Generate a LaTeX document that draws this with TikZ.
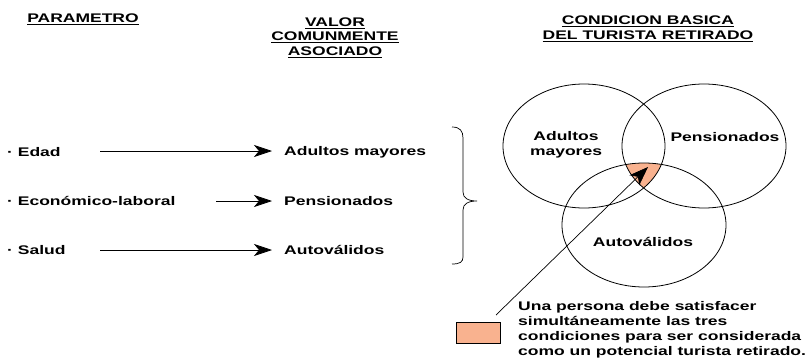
\documentclass[tikz,border=0pt]{standalone}
\usepackage{fontspec}
\setmainfont{Liberation Sans}[FakeStretch=1.4]
\usetikzlibrary{arrows.meta}
\definecolor{salmon}{RGB}{249,178,143}
\tikzset{
  txt/.style={font=\bfseries\fontsize{12.5}{15}\selectfont, inner sep=0pt},
  head/.style={txt, align=center},
  arr/.style={-{Stealth[length=18pt,width=12pt,inset=5pt]}, line width=0.7pt},
  venn/.style={line width=0.8pt},
}
\begin{document}
\begin{tikzpicture}[x=1pt,y=-1pt]
\useasboundingbox (0,0) rectangle (812,364);
% headings
\node[head] (h1) at (83,19.5) {\underline{PARAMETRO}};
\node[head] (h2) at (335,37.5) {\underline{VALOR}\\[-0.5pt]\underline{COMUNMENTE}\\[-0.5pt]\underline{ASOCIADO}};
\node[head] (h3) at (648,29) {\underline{CONDICION BASICA}\\[0pt]\underline{DEL TURISTA RETIRADO}};
% left column
\node[txt, anchor=west] (p1) at (7,152) {· Edad};
\node[txt, anchor=west] (p2) at (7,201) {· Económico-laboral};
\node[txt, anchor=west] (p3) at (7,250) {· Salud};
\node[txt, anchor=west] (v1) at (284,152) {Adultos mayores};
\node[txt, anchor=west] (v2) at (284,201) {Pensionados};
\node[txt, anchor=west] (v3) at (284,250) {Autoválidos};
\coordinate (s1) at (100,151);
\coordinate (s2) at (216,201);
\coordinate (s3) at (100,250);
\draw[arr, shorten >=12pt] (s1) -- (v1.west |- s1);
\draw[arr, shorten >=12pt] (s2) -- (v2.west |- s2);
\draw[arr, shorten >=12pt] (s3) -- (v3.west |- s3);
% brace
\draw[line width=0.7pt] (452,127) .. controls (460,127) and (463,131) .. (463,138) -- (463,192)
  .. controls (463,198) and (468,201) .. (477,201)
  .. controls (468,201) and (463,204) .. (463,210) -- (463,257)
  .. controls (463,262) and (460,264) .. (452,264);
% venn
\coordinate (c1) at (584,146);
\coordinate (c2) at (704,146);
\coordinate (c3) at (644,225);
\begin{scope}
  \clip (c1) ellipse [x radius=81, y radius=62];
  \clip (c2) ellipse [x radius=82, y radius=62];
  \fill[salmon] (c3) ellipse [x radius=82, y radius=62];
\end{scope}
\draw[venn] (c1) ellipse [x radius=81, y radius=62];
\draw[venn] (c2) ellipse [x radius=82, y radius=62];
\draw[venn] (c3) ellipse [x radius=82, y radius=62];
\node[head] (n1) at (566,145) {Adultos\\mayores};
\node[head] (n2) at (725,137) {Pensionados};
\node[head] (n3) at (643,242) {Autoválidos};
% legend
\node[draw, fill=salmon, line width=0.7pt, minimum width=44pt, minimum height=21pt, inner sep=0pt] (box) at (478,333) {};
\node[txt, anchor=north west, align=left] (cap) at (518,301) {Una persona debe satisfacer\\simultáneamente las tres\\condiciones para ser considerada\\como un potencial turista retirado.};
\coordinate (as) at (496,315);
\coordinate (at) at (648,167);
\draw[-{Stealth[length=19pt,width=14pt,inset=5pt]}, line width=0.7pt] (as) -- (at);
\end{tikzpicture}
\end{document}
